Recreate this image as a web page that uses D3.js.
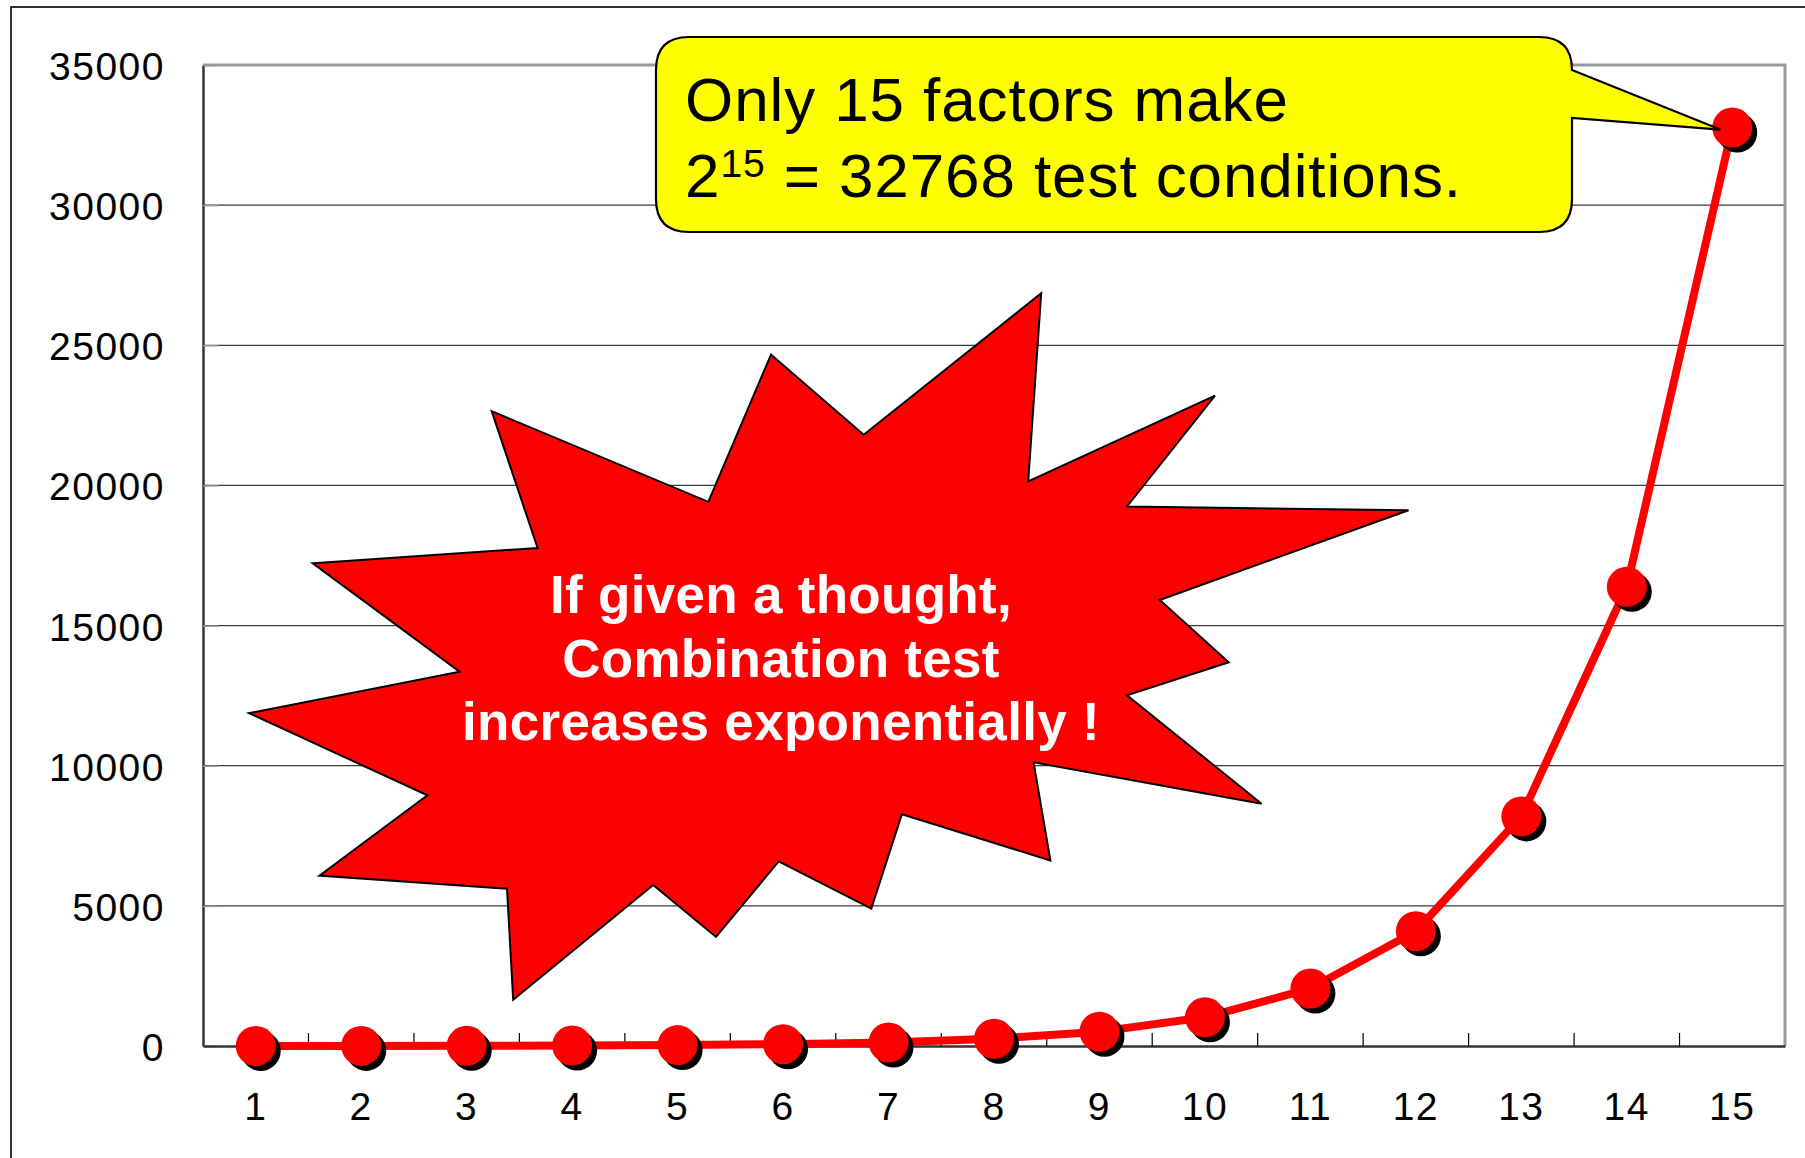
<!DOCTYPE html>
<html>
<head>
<meta charset="utf-8">
<script src="https://cdn.jsdelivr.net/npm/d3@7"></script>
<style>
  html, body { margin: 0; padding: 0; background: #fff; }
  svg { display: block; }
</style>
</head>
<body>
<script>
// ---- data ----
const categories = ["1","2","3","4","5","6","7","8","9","10","11","12","13","14","15"];
const values = [2, 4, 8, 16, 32, 64, 128, 256, 512, 1024, 2048, 4096, 8192, 16384, 32768];
const yTicks = [0, 5000, 10000, 15000, 20000, 25000, 30000, 35000];
const calloutLine1 = "Only 15 factors make";
const calloutBase = "2";
const calloutSup = "15";
const calloutRest = " = 32768 test conditions.";
const burstLines = ["If given a thought,", "Combination test", "increases exponentially !"];
// starburst annotation outline (page coordinates)
const burstShape = [[491.7,411.2],[708.3,501.8],[771,354.6],[863.7,434.8],[1041.2,293.2],[1028.2,481.5],
  [1215,395.6],[1127,506.5],[1408.5,510.3],[1159.8,600],[1228.7,662.3],[1127,695.3],[1261.6,803.8],
  [1033.6,762.3],[1050.4,860.5],[901.9,814.2],[871.3,908.6],[778.7,861.4],[716,936.9],[653.2,885],
  [513.2,999.7],[507,888.8],[319.5,875.6],[427.4,795.3],[249.1,713.2],[459.6,671.7],[312.7,563.2],[537.6,548]];

// ---- layout ----
const W = 1805, H = 1158;
const L = 203, R = 1785, T = 65, B = 1046;
const font = "'Liberation Sans', Arial, sans-serif";

const svg = d3.select("body").append("svg").attr("width", W).attr("height", H);
svg.append("rect").attr("width", W).attr("height", H).attr("fill", "#fff");
// outer frame
svg.append("rect").attr("x", 11).attr("y", 7).attr("width", W).attr("height", H)
  .attr("fill", "none").attr("stroke", "#000").attr("stroke-width", 1.6);

const x = d3.scaleBand().domain(categories).range([L, R]).padding(0);
const y = d3.scaleLinear().domain([0, 35000]).range([B, T]);
const cx = d => x(d) + x.bandwidth() / 2;

// gridlines
svg.append("g").selectAll("line").data(yTicks.filter(v => v > 0 && v < 35000)).join("line")
  .attr("x1", L).attr("x2", R).attr("y1", d => y(d)).attr("y2", d => y(d))
  .attr("stroke", "#3a3a3a").attr("stroke-width", 1.2);

// plot frame: top and right grey
svg.append("line").attr("x1", L).attr("x2", R + 1.5).attr("y1", y(35000)).attr("y2", y(35000))
  .attr("stroke", "#999").attr("stroke-width", 3);
svg.append("line").attr("x1", R).attr("x2", R).attr("y1", T).attr("y2", B)
  .attr("stroke", "#999").attr("stroke-width", 3);

// y axis
const yAxis = svg.append("g").attr("transform", `translate(${L},0)`)
  .call(d3.axisLeft(y).tickValues(yTicks).tickSizeInner(-15).tickSizeOuter(0).tickPadding(38)
    .tickFormat(d3.format("d")));
yAxis.select(".domain").attr("stroke", "#333").attr("stroke-width", 2.5);
yAxis.selectAll(".tick line").attr("stroke", "#999").attr("stroke-width", 1.5);
yAxis.selectAll("text").attr("font-family", font).attr("font-size", 39).attr("fill", "#000")
  .attr("letter-spacing", 1.5).attr("dy", "0.37em");

// x axis
const xAxis = svg.append("g").attr("transform", `translate(0,${B})`)
  .call(d3.axisBottom(x).tickSize(0).tickSizeOuter(0).tickPadding(0));
xAxis.select(".domain").attr("stroke", "#333").attr("stroke-width", 2.5);
xAxis.selectAll("text").attr("font-family", font).attr("font-size", 39).attr("fill", "#000")
  .attr("letter-spacing", 1.5).attr("y", 74).attr("dy", 0);
// x ticks at category boundaries, pointing up
svg.append("g").selectAll("line").data(categories.slice(1)).join("line")
  .attr("x1", d => x(d)).attr("x2", d => x(d)).attr("y1", B).attr("y2", B - 13)
  .attr("stroke", "#000").attr("stroke-width", 1.2);

// starburst
svg.append("polygon").attr("points", burstShape.map(p => p.join(",")).join(" "))
  .attr("fill", "#ff0000").attr("stroke", "#000").attr("stroke-width", 2).attr("stroke-linejoin", "miter");
svg.append("g").selectAll("text").data(burstLines).join("text")
  .attr("x", 781).attr("y", (d, i) => 613 + i * 63.5)
  .attr("text-anchor", "middle").attr("font-family", font).attr("font-weight", "bold")
  .attr("font-size", 53).attr("letter-spacing", 0.3).attr("fill", "#fff").text(d => d);

// series line
const pts = categories.map((c, i) => [cx(c), y(values[i])]);
svg.append("path").attr("d", d3.line()(pts)).attr("fill", "none")
  .attr("stroke", "#ff0000").attr("stroke-width", 8).attr("stroke-linejoin", "round");
// marker shadows + markers
svg.append("g").selectAll("circle").data(pts).join("circle")
  .attr("cx", d => d[0] + 5).attr("cy", d => d[1] + 5).attr("r", 20).attr("fill", "#000");
svg.append("g").selectAll("circle").data(pts).join("circle")
  .attr("cx", d => d[0]).attr("cy", d => d[1]).attr("r", 20).attr("fill", "#ff0000");

// callout
const bx0 = 656, by0 = 37, bx1 = 1572, by1 = 232, r = 33;
const last = pts[pts.length - 1];
const tip = [last[0] - 12, last[1] + 2];
const p = d3.path();
p.moveTo(bx0 + r, by0);
p.lineTo(bx1 - r, by0);
p.quadraticCurveTo(bx1, by0, bx1, by0 + r);
p.lineTo(bx1, 70);
p.lineTo(tip[0], tip[1]);
p.lineTo(bx1, 118);
p.lineTo(bx1, by1 - r);
p.quadraticCurveTo(bx1, by1, bx1 - r, by1);
p.lineTo(bx0 + r, by1);
p.quadraticCurveTo(bx0, by1, bx0, by1 - r);
p.lineTo(bx0, by0 + r);
p.quadraticCurveTo(bx0, by0, bx0 + r, by0);
p.closePath();
svg.append("path").attr("d", p.toString()).attr("fill", "#ffff00")
  .attr("stroke", "#000").attr("stroke-width", 2.2).attr("stroke-linejoin", "miter");

const ct = svg.append("g").attr("font-family", font).attr("fill", "#000");
ct.append("text").attr("x", 685).attr("y", 121).attr("font-size", 62).attr("letter-spacing", 0.9)
  .text(calloutLine1);
const t2 = ct.append("text").attr("x", 685).attr("y", 197).attr("font-size", 62).attr("letter-spacing", 0.9);
t2.append("tspan").text(calloutBase);
t2.append("tspan").attr("font-size", 39).attr("dy", -20).text(calloutSup);
t2.append("tspan").attr("dy", 20).text(calloutRest);
</script>
</body>
</html>
